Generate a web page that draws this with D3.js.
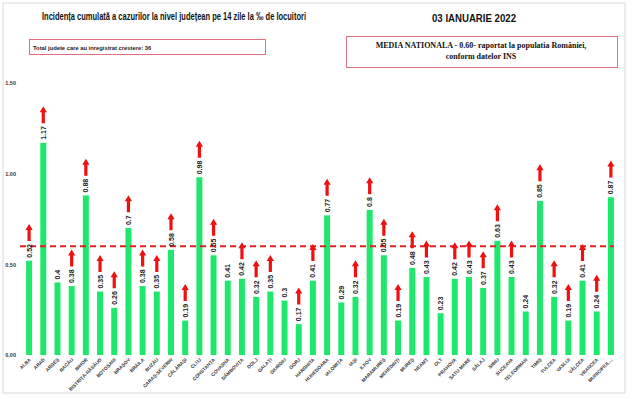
<!DOCTYPE html>
<html lang="ro">
<head>
<meta charset="UTF-8">
<title>Incidenta cumulata pe judete</title>
<script src="https://d3js.org/d3.v7.min.js"></script>
<style>
  body { margin: 0; background: #fff; font-family: "Liberation Sans", Arial, sans-serif; }
  svg { display: block; }
</style>
</head>
<body>
<svg id="chart"></svg>
<script>
// date
const judete = ["ALBA", "ARAD", "ARGEȘ", "BACĂU", "BIHOR", "BISTRIȚA-NĂSĂUD", "BOTOȘANI", "BRAȘOV",
  "BRĂILA", "BUZĂU", "CARAȘ-SEVERIN", "CĂLĂRAȘI", "CLUJ", "CONSTANȚA", "COVASNA", "DÂMBOVIȚA",
  "DOLJ", "GALAȚI", "GIURGIU", "GORJ", "HARGHITA", "HUNEDOARA", "IALOMIȚA", "IAȘI", "ILFOV",
  "MARAMUREȘ", "MEHEDINȚI", "MUREȘ", "NEAMȚ", "OLT", "PRAHOVA", "SATU MARE", "SĂLAJ", "SIBIU",
  "SUCEAVA", "TELEORMAN", "TIMIȘ", "TULCEA", "VASLUI", "VÂLCEA", "VRANCEA", "MUNICIPIUL..."];
const incidenta = [0.52, 1.17, 0.4, 0.38, 0.88, 0.35, 0.26, 0.7,
  0.38, 0.35, 0.58, 0.19, 0.98, 0.55, 0.41, 0.42,
  0.32, 0.35, 0.3, 0.17, 0.41, 0.77, 0.29, 0.32, 0.8,
  0.55, 0.19, 0.48, 0.43, 0.23, 0.42, 0.43, 0.37, 0.63,
  0.43, 0.24, 0.85, 0.32, 0.19, 0.41, 0.24, 0.87];
// 1 = crestere fata de raportarea anterioara
const crestere = [1, 1, 0, 1, 1, 1, 1, 1,
  1, 1, 1, 1, 1, 1, 0, 1,
  1, 1, 0, 1, 1, 1, 0, 1, 1,
  1, 1, 1, 1, 0, 1, 1, 1, 1,
  1, 0, 1, 1, 1, 1, 1, 1];
const yTicks = [0, 0.5, 1.0, 1.5];
const medie = 0.60;

const width = 637, height = 399;
const svg = d3.select("#chart").attr("width", width).attr("height", height);

const data = judete.map((j, i) => ({ judet: j, val: incidenta[i], up: crestere[i] }));

// chenar
svg.append("rect")
  .attr("x", 3).attr("y", 3).attr("width", 622).attr("height", 390)
  .attr("fill", "none").attr("stroke", "#d9d9d9").attr("stroke-width", 1);

// titlu
svg.append("text")
  .attr("x", 42).attr("y", 20)
  .attr("textLength", 264).attr("lengthAdjust", "spacingAndGlyphs")
  .style("font-size", "10px").style("font-weight", "bold").style("fill", "#111")
  .text("Incidența cumulată a cazurilor la nivel județean pe 14 zile la ‰ de locuitori");
svg.append("text")
  .attr("x", 432).attr("y", 22)
  .attr("textLength", 84).attr("lengthAdjust", "spacingAndGlyphs")
  .style("font-size", "10px").style("font-weight", "bold").style("fill", "#111")
  .text("03 IANUARIE 2022");

// casete
svg.append("rect")
  .attr("x", 29.5).attr("y", 39.5).attr("width", 236).attr("height", 15)
  .attr("fill", "#fff").attr("stroke", "#e07080").attr("stroke-width", 1);
svg.append("text")
  .attr("x", 33).attr("y", 49.5)
  .style("font-size", "5.8px").style("font-weight", "bold").style("fill", "#222")
  .text("Total judete care au inregistrat crestere: 36");

svg.append("rect")
  .attr("x", 346.5).attr("y", 36.5).attr("width", 271).attr("height", 31)
  .attr("fill", "#fff").attr("stroke", "#e07080").attr("stroke-width", 1);
svg.append("text")
  .attr("x", 481).attr("y", 48).attr("text-anchor", "middle")
  .style("font-family", "'Liberation Serif', 'Times New Roman', serif")
  .style("font-size", "8px").style("font-weight", "bold").style("fill", "#111")
  .text("MEDIA NATIONALA - 0.60-  raportat la populatia României,");
svg.append("text")
  .attr("x", 481).attr("y", 59).attr("text-anchor", "middle")
  .style("font-family", "'Liberation Serif', 'Times New Roman', serif")
  .style("font-size", "8px").style("font-weight", "bold").style("fill", "#111")
  .text("conform datelor INS");

// scale
const x = d3.scaleBand().domain(judete).range([22, 618]).paddingInner(0.58).paddingOuter(0.29);
const y = d3.scaleLinear().domain([0, 1.5]).range([355, 83]);

// axa y (doar etichete)
const yAxis = svg.append("g")
  .attr("transform", "translate(17,0)")
  .call(d3.axisLeft(y).tickValues(yTicks).tickFormat(d3.format(".2f")).tickSize(0).tickPadding(1));
yAxis.select(".domain").remove();
yAxis.selectAll("text")
  .style("font-family", "'Liberation Sans', Arial, sans-serif")
  .style("font-size", "5.5px").style("font-weight", "bold").style("fill", "#333");

// bare
svg.append("g").selectAll("rect")
  .data(data).enter().append("rect")
  .attr("x", d => x(d.judet))
  .attr("y", d => y(d.val))
  .attr("width", x.bandwidth())
  .attr("height", d => y(0) - y(d.val))
  .attr("fill", "#1de86c");

// linia mediei nationale
svg.append("line")
  .attr("x1", 20).attr("x2", x(judete[judete.length - 1]) + x.bandwidth())
  .attr("y1", y(medie)).attr("y2", y(medie))
  .attr("stroke", "#e02020").attr("stroke-width", 2)
  .attr("stroke-dasharray", "6,4");

// etichete valori
const cx = d => x(d.judet) + x.bandwidth() / 2;
const labels = svg.append("g").selectAll("text")
  .data(data).enter().append("text")
  .attr("transform", d => `translate(${cx(d) + 2.5},${y(d.val) - 3}) rotate(-90)`)
  .style("font-size", "7px").style("font-weight", "bold").style("fill", "#222")
  .text(d => String(d.val));

// sageti de crestere
const arrowPath = "M-1.6,0 L-1.6,-11 L-3.6,-11 L0,-17 L3.6,-11 L1.6,-11 L1.6,0 Z";
labels.each(function (d) {
  d.labelLen = this.getComputedTextLength();
});
svg.append("g").selectAll("path")
  .data(data.filter(d => d.up)).enter().append("path")
  .attr("d", arrowPath)
  .attr("transform", d => `translate(${cx(d)},${y(d.val) - 3 - d.labelLen - 3})`)
  .attr("fill", "#ee1111");

// etichete axa x
svg.append("g").selectAll("text")
  .data(data).enter().append("text")
  .attr("transform", d => `translate(${cx(d) + 2},${y(0) + 5}) rotate(-45)`)
  .attr("text-anchor", "end")
  .style("font-size", "4.8px").style("font-weight", "bold").style("fill", "#333")
  .text(d => d.judet);
</script>
</body>
</html>
